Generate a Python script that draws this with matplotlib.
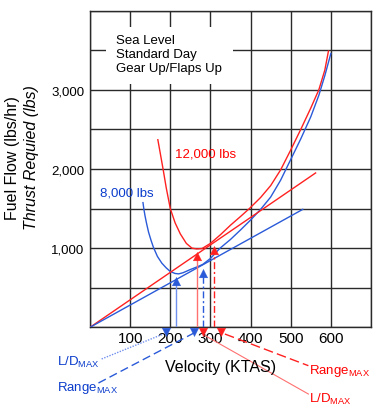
import matplotlib
matplotlib.use('Agg')
import matplotlib.pyplot as plt

plt.rcParams['font.family'] = ['Liberation Sans', 'DejaVu Sans']
plt.rcParams['mathtext.fontset'] = 'custom'
plt.rcParams['mathtext.rm'] = 'Liberation Sans'
plt.rcParams['mathtext.it'] = 'Liberation Sans:italic'

# ---------------- data ----------------
red_v = [169, 175, 182, 190, 200, 212, 225, 240, 254, 266, 279, 300, 325, 350,
         375, 397, 425, 450, 475, 500, 525, 550, 570, 585, 594]
red_t = [2370, 2200, 2000, 1760, 1500, 1320, 1180, 1060, 1000, 990, 995, 1060,
         1170, 1290, 1400, 1500, 1640, 1790, 1990, 2240, 2500, 2770, 3000, 3250, 3490]

blue_v = [132, 134, 137, 141, 146, 152, 158, 168, 179, 190, 200, 212, 221, 232,
          250, 270, 281, 300, 324, 350, 375, 400, 425, 450, 475, 500, 525, 550,
          570, 585, 600]
blue_t = [1575, 1500, 1410, 1310, 1200, 1100, 1010, 895, 810, 750, 705, 680, 675,
          690, 730, 770, 795, 870, 1000, 1110, 1230, 1355, 1490, 1645, 1860, 2120,
          2380, 2660, 2930, 3180, 3460]

red_tan_v = [0, 562]
red_tan_t = [0, 1950]
blue_tan_v = [0, 530]
blue_tan_t = [0, 1490]

# vertical arrows: blue L/D, red L/D, blue Range, red Range
arrow_v = [215, 267, 282, 310]
arrow_t = [640, 955, 740, 1030]
# pointers under the axis: blue L/D, blue Range, red L/D, red Range
pointer_v = [189, 259, 281, 326]

x_ticks = [100, 200, 300, 400, 500, 600]
y_ticks = [1000, 2000, 3000]
y_tick_labels = ['1,000', '2,000', '3,000']
box_lines = ['Sea Level', 'Standard Day', 'Gear Up/Flaps Up']
series_names = ['12,000 lbs', '8,000 lbs']

# ---------------- styling ----------------
RED = '#ff2020'
RED_T = '#ff0000'
RED_L = '#ff7070'
BLUE = '#2a5ad8'
BLUE_T = '#0a3ccc'
BLUE_L = '#7090ee'
GRID = '#2a2a2a'

W, H = 383, 410
fig = plt.figure(figsize=(W / 100, H / 100), dpi=100)
L, R, B, T = 90, 371, 328.3, 11.7
ax = fig.add_axes([L / W, (H - B) / H, (R - L) / W, (B - T) / H])
ax.set_xlim(0, 700)
ax.set_ylim(0, 4000)

ax.set_xticks(range(0, 701, 100))
ax.set_xticklabels([str(v) if v in x_ticks else '' for v in range(0, 701, 100)],
                   fontsize=11)
ax.set_yticks(range(0, 4001, 500))
ax.set_yticklabels([y_tick_labels[y_ticks.index(v)] if v in y_ticks else ''
                    for v in range(0, 4001, 500)], fontsize=9.5)
ax.tick_params(axis='both', length=0)
ax.tick_params(axis='x', pad=2.5)
ax.tick_params(axis='y', pad=4)
ax.grid(True, color=GRID, linewidth=1.0, zorder=1)
ax.set_axisbelow(True)
for s in ax.spines.values():
    s.set_color(GRID)
    s.set_linewidth(1.0)

# text box with white background hiding the grid
ax.fill_between([40, 355], 3075, 3800, color='white', zorder=1.5, linewidth=0)
ax.text(65, 3453, '\n'.join(box_lines), fontsize=9.5, va='center', ha='left',
        linespacing=1.22, zorder=3)

# curves
ax.plot(red_v, red_t, color=RED, lw=1.0, zorder=4)
ax.plot(blue_v, blue_t, color=BLUE, lw=1.0, zorder=4)
ax.plot(red_tan_v, red_tan_t, color=RED, lw=1.0, zorder=4)
ax.plot(blue_tan_v, blue_tan_t, color=BLUE, lw=1.0, zorder=4)

ax.text(212, 2190, series_names[0], color=RED_T, fontsize=9.5, va='center')
ax.text(25, 1697, series_names[1], color=BLUE_T, fontsize=9.5, va='center')

# arrow markers (tip at the given point)
up_tri = [(0, 0), (-0.5, -1), (0.5, -1), (0, 0)]
down_tri = [(0, 0), (-0.5, 1), (0.5, 1), (0, 0)]
arrow_cols = [BLUE_L, RED_L, BLUE, RED]
head_cols = [BLUE, RED, BLUE, RED]
arrow_ls = ['-', '-', (0, (5, 2, 1.5, 2)), (0, (5, 2, 1.5, 2))]
for v, t, c, hc, ls in zip(arrow_v, arrow_t, arrow_cols, head_cols, arrow_ls):
    ax.plot([v, v], [0, t - 6 / 0.07915], color=c, lw=1.0, ls=ls, zorder=5)
    ax.plot([v], [t], marker=up_tri, markersize=12, color=hc, mec=hc, mew=0.3,
            zorder=6)

# pointers below the axis and leader lines
p_cols = [BLUE, BLUE, RED, RED]
for v, c in zip(pointer_v, p_cols):
    ax.plot([v], [-110], marker=down_tri, markersize=12, color=c, mec=c, mew=0.3,
            zorder=6, clip_on=False)

ax.plot([29, 183], [-400, -84], color=BLUE_L, lw=1.0, ls=(0, (1, 1)), clip_on=False)
ax.plot([21, 259], [-704, -72], color=BLUE, lw=1.0, ls=(0, (6, 3)), clip_on=False)
ax.plot([287, 544], [-106, -843], color=RED_L, lw=0.8, clip_on=False)
ax.plot([336, 544], [-85, -485], color=RED, lw=1.0, ls=(0, (7, 3)), clip_on=False)

ax.text(-81.5, -476, r'L/D$_{\mathrm{MAX}}$', color=BLUE_T, fontsize=9.5,
        va='baseline', ha='left', clip_on=False)
ax.text(-81.5, -792, r'Range$_{\mathrm{MAX}}$', color=BLUE_T, fontsize=9.5,
        va='baseline', ha='left', clip_on=False)
ax.text(546, -577, r'Range$_{\mathrm{MAX}}$', color=RED_T, fontsize=9.5,
        va='baseline', ha='left', clip_on=False)
ax.text(546, -940, r'L/D$_{\mathrm{MAX}}$', color=RED_T, fontsize=9.5,
        va='baseline', ha='left', clip_on=False)

# axis titles
fig.text(221 / W, 1 - 368 / H, 'Velocity (KTAS)', fontsize=11.5,
         ha='center', va='center')
fig.text(13 / W, 1 - 158 / H, 'Fuel Flow (lbs/hr)', fontsize=11.5,
         rotation=90, ha='center', va='center')
fig.text(32 / W, 1 - 158 / H, 'Thrust Requied (lbs)', fontsize=11.5,
         style='italic', rotation=90, ha='center', va='center')

fig.savefig('out.png', dpi=100)
